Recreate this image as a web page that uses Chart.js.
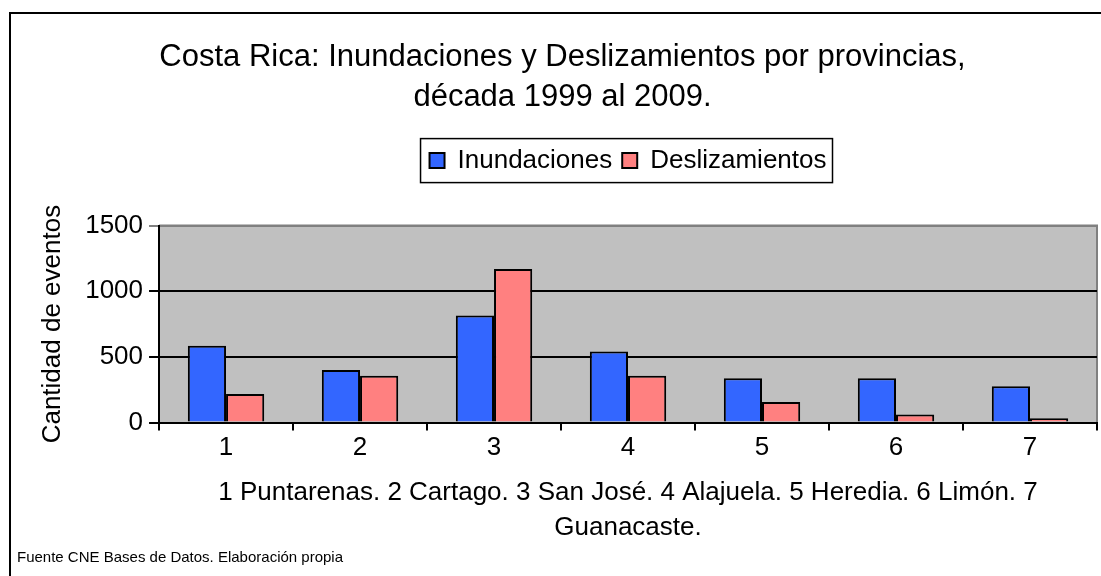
<!DOCTYPE html>
<html>
<head>
<meta charset="utf-8">
<script src="https://cdn.jsdelivr.net/npm/chart.js@4/dist/chart.umd.min.js"></script>
<style>
  html, body { margin: 0; padding: 0; background: #fff; }
  #grafico { display: block; }
</style>
</head>
<body>
<canvas id="grafico" width="1101" height="576"></canvas>
<script>
const provincias = ['1', '2', '3', '4', '5', '6', '7']
const inundaciones = [585, 400, 815, 541, 338, 338, 277]
const deslizamientos = [218, 356, 1169, 356, 156, 62, 33]
const ticksY = [0, 500, 1000, 1500]

const titulo = ['Costa Rica: Inundaciones y Deslizamientos por provincias,', 'década 1999 al 2009.']
const tituloX = ['1 Puntarenas. 2 Cartago. 3 San José. 4 Alajuela. 5 Heredia. 6 Limón. 7', 'Guanacaste.']
const tituloY = 'Cantidad de eventos'
const fuente = 'Fuente CNE Bases de Datos. Elaboración propia'

const FONT = 'Arial, "Liberation Sans", sans-serif'

// fondo gris del área de trazado, marco exterior, borde de la leyenda y nota de fuente
const decoracion = {
  id: 'decoracion',
  beforeDraw(chart) {
    const { ctx, chartArea: a } = chart
    ctx.save()
    ctx.fillStyle = '#C0C0C0'
    ctx.fillRect(a.left, a.top, a.right - a.left, a.bottom - a.top)
    ctx.strokeStyle = '#808080'
    ctx.lineWidth = 2
    ctx.beginPath()
    ctx.moveTo(a.left, a.top)
    ctx.lineTo(a.right, a.top)
    ctx.lineTo(a.right, a.bottom)
    ctx.stroke()
    ctx.restore()
  },
  afterDraw(chart) {
    const { ctx } = chart
    ctx.save()
    ctx.strokeStyle = '#000'
    ctx.lineWidth = 2
    ctx.beginPath()
    ctx.moveTo(10, 576)
    ctx.lineTo(10, 13)
    ctx.lineTo(1101, 13)
    ctx.stroke()

    const cajas = chart.legend.legendHitBoxes
    if (cajas && cajas.length) {
      const x0 = Math.min(...cajas.map((b) => b.left)) - 9
      const x1 = Math.max(...cajas.map((b) => b.left + b.width)) + 6
      const y0 = Math.min(...cajas.map((b) => b.top)) - 9
      const y1 = Math.max(...cajas.map((b) => b.top + b.height)) + 9
      ctx.lineWidth = 1.5
      ctx.strokeRect(x0, y0, x1 - x0, y1 - y0)
    }

    ctx.fillStyle = '#000'
    ctx.font = '15px ' + FONT
    ctx.textBaseline = 'alphabetic'
    ctx.fillText(fuente, 17, 562)
    ctx.restore()
  },
}

new Chart(document.getElementById('grafico'), {
  type: 'bar',
  data: {
    labels: provincias,
    datasets: [
      {
        label: 'Inundaciones',
        data: inundaciones,
        backgroundColor: '#3366FF',
        borderColor: '#000',
        borderWidth: 2,
      },
      {
        label: 'Deslizamientos',
        data: deslizamientos,
        backgroundColor: '#FF8080',
        borderColor: '#000',
        borderWidth: 2,
      },
    ],
  },
  options: {
    responsive: false,
    animation: false,
    devicePixelRatio: 1,
    layout: { padding: { left: 28, right: 4, top: 0, bottom: 31 } },
    datasets: { bar: { categoryPercentage: 0.57, barPercentage: 1.0 } },
    plugins: {
      title: {
        display: true,
        text: titulo,
        color: '#000',
        font: { family: FONT, size: 31, weight: 'normal', lineHeight: 1.3 },
        padding: { top: 37, bottom: 20 },
      },
      // espacio vacío entre la leyenda y el área de trazado
      subtitle: {
        display: true,
        text: ' ',
        weight: 500,
        fullSize: false,
        font: { size: 1, lineHeight: 1 },
        padding: { top: 41, bottom: 0 },
      },
      legend: {
        display: true,
        position: 'top',
        fullSize: false,
        labels: {
          color: '#000',
          font: { family: FONT, size: 26 },
          boxWidth: 15,
          boxHeight: 15,
          padding: 10,
        },
      },
      tooltip: { enabled: false },
    },
    scales: {
      x: {
        offset: true,
        grid: { drawOnChartArea: false, drawTicks: true, tickLength: 8, color: '#000', lineWidth: 2, offset: true },
        border: { color: '#000', width: 2 },
        ticks: { color: '#000', font: { family: FONT, size: 26 }, padding: 2 },
        title: {
          display: true,
          text: tituloX,
          color: '#000',
          font: { family: FONT, size: 26, lineHeight: 1.35 },
          padding: { top: 9, bottom: 0 },
        },
      },
      y: {
        min: 0,
        max: 1500,
        afterBuildTicks: (scale) => {
          scale.ticks = ticksY.map((v) => ({ value: v }))
        },
        grid: {
          color: (c) => (c.tick && c.tick.value === 1500 ? '#808080' : '#000'),
          lineWidth: 2,
          tickLength: 10,
        },
        border: { color: '#000', width: 2 },
        ticks: {
          color: '#000',
          font: { family: FONT, size: 26 },
          padding: 6,
          callback: (v) => String(v),
        },
        title: {
          display: true,
          text: tituloY,
          color: '#000',
          font: { family: FONT, size: 26 },
          padding: { top: 9, bottom: 11 },
        },
      },
    },
  },
  plugins: [decoracion],
})
</script>
</body>
</html>
